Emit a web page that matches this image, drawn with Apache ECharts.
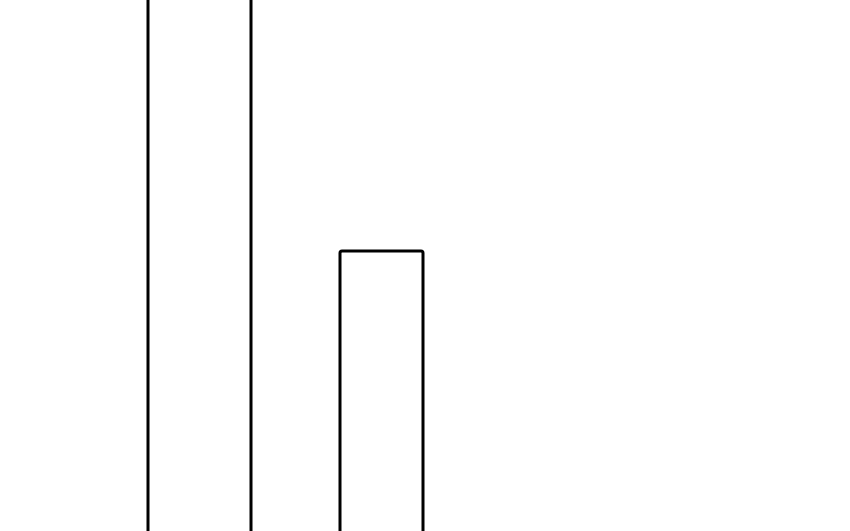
<!DOCTYPE html>
<html>
<head>
<meta charset="utf-8">
<script src="https://cdn.jsdelivr.net/npm/echarts@6/dist/echarts.min.js"></script>
<style>html,body{margin:0;padding:0;background:#fff;}#c{width:850px;height:531px;}</style>
</head>
<body>
<div id="c"></div>
<script>
var categories = ['A', 'B'];
var seriesA = [75, '-'];
var seriesB = ['-', 40];

var chart = echarts.init(document.getElementById('c'));
var barStyle = { color: '#ffffff', borderColor: '#000000', borderWidth: 3, borderRadius: 2 };
chart.setOption({
  animation: false,
  backgroundColor: '#ffffff',
  grid: { left: 108.5, width: 364, top: -130.5, bottom: -98.5, outerBoundsMode: 'none', containLabel: false },
  xAxis: [
    { type: 'category', data: categories, show: false },
    { type: 'category', data: categories, show: false }
  ],
  yAxis: { type: 'value', min: 0, max: 80, show: false },
  series: [
    { type: 'bar', xAxisIndex: 0, data: seriesA, barWidth: 106, itemStyle: barStyle },
    { type: 'bar', xAxisIndex: 1, data: seriesB, barWidth: 86, itemStyle: barStyle }
  ]
});
</script>
</body>
</html>
